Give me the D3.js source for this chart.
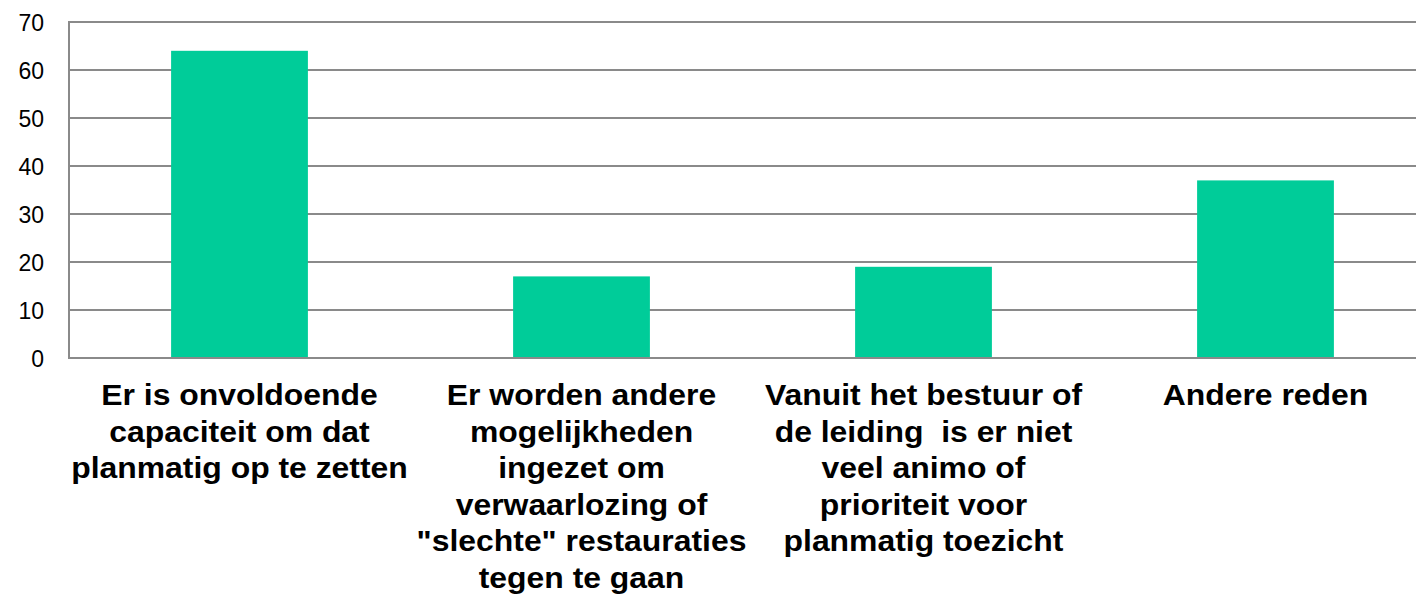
<html>
<head>
<meta charset="utf-8">
<script src="https://d3js.org/d3.v7.min.js"></script>
<style>
  body { margin: 0; background: #fff; }
  text { font-family: "Liberation Sans", Arial, sans-serif; fill: #000; }
</style>
</head>
<body>
<div id="viz"></div>
<script>
// data
var categories = ["c1", "c2", "c3", "c4"];
var labelLines = [
  ["Er is onvoldoende", "capaciteit om dat", "planmatig op te zetten"],
  ["Er worden andere", "mogelijkheden", "ingezet om", "verwaarlozing of", "\"slechte\" restauraties", "tegen te gaan"],
  ["Vanuit het bestuur of", "de leiding  is er niet", "veel animo of", "prioriteit voor", "planmatig toezicht"],
  ["Andere reden"]
];
var values = [64, 17, 19, 37];
var yTicks = [0, 10, 20, 30, 40, 50, 60, 70];

var width = 1416, height = 595;
var plotLeft = 69, plotTop = 22, plotBottom = 358;

var svg = d3.select("#viz").append("svg")
  .attr("width", width)
  .attr("height", height);

var x = d3.scaleBand()
  .domain(categories)
  .range([68.5, 1436.5])
  .paddingInner(0.6)
  .paddingOuter(0.3);

var y = d3.scaleLinear()
  .domain([0, 70])
  .range([plotBottom, plotTop]);

// gridlines
svg.append("g").selectAll("line")
  .data(yTicks)
  .enter().append("line")
  .attr("x1", plotLeft).attr("x2", width)
  .attr("y1", function (d) { return y(d); })
  .attr("y2", function (d) { return y(d); })
  .style("stroke", "#8a8a8a")
  .style("stroke-width", 2);

// bars
svg.append("g").selectAll("rect")
  .data(values)
  .enter().append("rect")
  .attr("x", function (d, i) { return x(categories[i]); })
  .attr("width", x.bandwidth())
  .attr("y", function (d) { return y(d); })
  .attr("height", function (d) { return y(0) - y(d); })
  .style("fill", "#00cc99");

// baseline and y axis line
svg.append("line")
  .attr("x1", plotLeft).attr("x2", width)
  .attr("y1", y(0)).attr("y2", y(0))
  .style("stroke", "#8a8a8a").style("stroke-width", 2);

svg.append("line")
  .attr("x1", plotLeft).attr("x2", plotLeft)
  .attr("y1", y(70) - 1).attr("y2", y(0) + 1)
  .style("stroke", "#8a8a8a").style("stroke-width", 2);

// y tick labels
var yAxis = d3.axisLeft(y).tickValues(yTicks).tickSize(0).tickPadding(0);
var ya = svg.append("g")
  .attr("transform", "translate(44,0)")
  .call(yAxis);
ya.select(".domain").remove();
ya.selectAll("text")
  .style("font-size", "23px")
  .style("font-family", "'Liberation Sans', Arial, sans-serif")
  .attr("fill", "#000")
  .attr("dy", "0.36em");

// category labels
var lineH = 36.6;
var lab = svg.append("g").selectAll("g")
  .data(categories)
  .enter().append("g")
  .attr("transform", function (d) {
    return "translate(" + (x(d) + x.bandwidth() / 2) + ",405) scale(1.1,1)";
  });

lab.each(function (d, i) {
  var g = d3.select(this);
  labelLines[i].forEach(function (s, j) {
    g.append("text")
      .attr("x", 0)
      .attr("y", j * lineH)
      .attr("text-anchor", "middle")
      .style("font-size", "29px")
      .style("font-weight", "bold")
      .style("white-space", "pre")
      .text(s);
  });
});
</script>
</body>
</html>
